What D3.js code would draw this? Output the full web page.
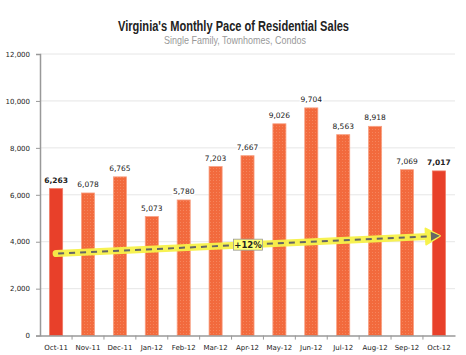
<!DOCTYPE html>
<html><head><meta charset="utf-8">
<script src="https://cdn.jsdelivr.net/npm/d3@7"></script>
<style>body{margin:0;background:#fff}svg{display:block}</style>
</head><body>
<svg id="c" width="466" height="355"></svg>
<script>
const months = ["Oct-11","Nov-11","Dec-11","Jan-12","Feb-12","Mar-12","Apr-12","May-12","Jun-12","Jul-12","Aug-12","Sep-12","Oct-12"];
const sales = [6263,6078,6765,5073,5780,7203,7667,9026,9704,8563,8918,7069,7017];
const highlight = [true,false,false,false,false,false,false,false,false,false,false,false,true];
const yTicks = [0,2000,4000,6000,8000,10000,12000];
const trendMonths = ["Oct-11","Oct-12"];
const trendValues = [3500,4250];
const trendLabel = "+12%";
const title = "Virginia's Monthly Pace of Residential Sales";
const subtitle = "Single Family, Townhomes, Condos";

const svg = d3.select("#c");
const L = 40, R = 455, T = 54, B = 335.6;
const x = d3.scaleBand().domain(months).range([L, R]).paddingInner(0.59).paddingOuter(0.3);
const y = d3.scaleLinear().domain([0, 12000]).range([B, T]);

const defs = svg.append("defs");
const pat = defs.append("pattern").attr("id","tex").attr("patternUnits","userSpaceOnUse").attr("width",3).attr("height",3);
pat.append("rect").attr("width",3).attr("height",3).attr("fill","#f26a3d");
pat.append("rect").attr("width",1).attr("height",1).attr("fill","#f5845c");

svg.append("text").attr("x",233.5).attr("y",31).attr("text-anchor","middle")
  .attr("font-family","Liberation Sans, Arial, sans-serif").attr("font-weight","bold")
  .attr("font-size",14).attr("fill","#222")
  .attr("textLength",231).attr("lengthAdjust","spacingAndGlyphs").text(title);
svg.append("text").attr("x",235).attr("y",44).attr("text-anchor","middle")
  .attr("font-family","Liberation Sans, Arial, sans-serif")
  .attr("font-size",10.5).attr("fill","#999")
  .attr("textLength",142).attr("lengthAdjust","spacingAndGlyphs").text(subtitle);

// gridlines
svg.append("g").selectAll("line").data(yTicks.filter(d=>d>0)).join("line")
  .attr("x1",L).attr("x2",R).attr("y1",d=>y(d)).attr("y2",d=>y(d))
  .attr("stroke","#e6e6e6").attr("stroke-width",1);

// y axis
const ya = svg.append("g").attr("transform",`translate(${L},0)`)
  .call(d3.axisLeft(y).tickValues(yTicks).tickSize(4).tickPadding(6).tickFormat(d3.format(",")));
ya.select(".domain").attr("stroke","#999").attr("stroke-width",1.5);
ya.selectAll(".tick line").attr("stroke","#999");
ya.selectAll("text").attr("font-family","Verdana, DejaVu Sans, sans-serif").attr("font-size",7).attr("fill","#222");

// bars
svg.append("g").selectAll("rect").data(months).join("rect")
  .attr("x",d=>x(d)).attr("width",x.bandwidth())
  .attr("y",(d,i)=>y(sales[i])).attr("height",(d,i)=>B-y(sales[i]))
  .attr("fill",(d,i)=>highlight[i] ? "#e8402a" : "url(#tex)")
  .attr("stroke",(d,i)=>highlight[i] ? "#f07a64" : "#f8a083").attr("stroke-width",0.8);

// x axis
const xa = svg.append("g").attr("transform",`translate(0,${B})`)
  .call(d3.axisBottom(x).tickSize(0).tickPadding(9));
xa.select(".domain").attr("stroke","#999").attr("stroke-width",1.5);
xa.selectAll("text").attr("font-family","Verdana, DejaVu Sans, sans-serif").attr("font-size",7).attr("fill","#222");
svg.append("g").selectAll("line").data(months.slice(1)).join("line")
  .attr("x1",d=>x(d)-x.step()*x.paddingInner()/2).attr("x2",d=>x(d)-x.step()*x.paddingInner()/2)
  .attr("y1",B).attr("y2",B+4).attr("stroke","#999");

// value labels
const vl = svg.append("g").selectAll("g").data(months).join("g")
  .attr("transform",(d,i)=>`translate(${x(d)+x.bandwidth()/2},${y(sales[i])-6})`);
vl.append("text").attr("text-anchor","middle")
  .attr("font-family","Verdana, DejaVu Sans, sans-serif").attr("font-size",7.5)
  .attr("font-weight",(d,i)=>highlight[i]?"bold":"normal")
  .attr("fill","#222").attr("stroke","#fff").attr("stroke-width",3).attr("paint-order","stroke")
  .text((d,i)=>d3.format(",")(sales[i]));

// trend
const tx1 = x(trendMonths[0]) + x.bandwidth()/2, tx2 = x(trendMonths[1]) + x.bandwidth()/2 + 1;
const ty1 = y(trendValues[0]), ty2 = y(trendValues[1]);
const ang = Math.atan2(ty2-ty1, tx2-tx1);
svg.append("line").attr("x1",tx1).attr("y1",ty1).attr("x2",tx2-6*Math.cos(ang)).attr("y2",ty2-6*Math.sin(ang))
  .attr("stroke","#f7f24a").attr("stroke-width",7).attr("stroke-linecap","round").attr("opacity",0.95);
const ah = (len, w) => {
  const bx = tx2 - len*Math.cos(ang), by = ty2 - len*Math.sin(ang);
  const px = -Math.sin(ang)*w, py = Math.cos(ang)*w;
  return `M${tx2},${ty2}L${bx+px},${by+py}L${bx-px},${by-py}Z`;
};
svg.append("path").attr("d",ah(14,8)).attr("fill","#f7f24a").attr("stroke","#f7f24a").attr("stroke-width",2).attr("stroke-linejoin","round");
svg.append("line").attr("x1",tx1+2).attr("y1",ty1).attr("x2",tx2-8*Math.cos(ang)).attr("y2",ty2-8*Math.sin(ang))
  .attr("stroke","#666").attr("stroke-width",2).attr("stroke-dasharray","6,5");
svg.append("path").attr("d",ah(9,4.5)).attr("fill","#666");

// label box
const lx = 248, ly = y(trendValues[0] + (trendValues[1]-trendValues[0])*((lx-tx1)/(tx2-tx1)));
svg.append("rect").attr("x",lx-14.5).attr("y",ly-5.5).attr("width",29).attr("height",11)
  .attr("fill","#ffff77").attr("stroke","#999").attr("stroke-width",0.8);
svg.append("text").attr("x",lx).attr("y",ly+3.5).attr("text-anchor","middle")
  .attr("font-family","Verdana, DejaVu Sans, sans-serif").attr("font-weight","bold").attr("font-size",8.5)
  .attr("fill","#222").text(trendLabel);
</script>
</body></html>
